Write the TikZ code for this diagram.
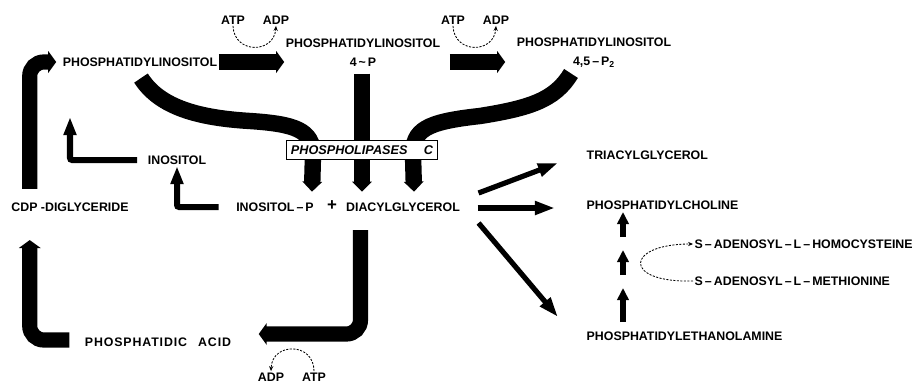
\documentclass[tikz,border=0pt]{standalone}
\usepackage{fontspec}
\setmainfont{Liberation Sans}
\usetikzlibrary{arrows.meta, calc, backgrounds}

\begin{document}
\begin{tikzpicture}[
                x=0.025cm, y=-0.025cm,
                lbl/.style={font=\bfseries\fontsize{8.8}{13.5}\selectfont, inner sep=1pt},
                band/.style={line width=0.41cm, -{Triangle[length=0.25cm, width=0.48cm]}},
                fat/.style={line width=0.38cm, rounded corners=0.35cm, -{Triangle[length=0.2cm, width=0.54cm]}},
                mid/.style={line width=0.15cm, rounded corners=1.5pt, -{Triangle[length=0.45cm, width=0.3cm]}},
                thinarr/.style={line width=0.13cm, -{Triangle[length=0.5cm, width=0.32cm]}},
                stackarr/.style={line width=0.13cm, -{Triangle[length=0.3cm, width=0.28cm]}},
                cofactor/.style={semithick, dash pattern=on 1.5pt off 1pt, -{Stealth[length=3.5pt, width=3pt]}},
                plcbox/.style={draw, fill=white, thin, minimum width=3.75cm, minimum height=0.47cm,
                    font=\bfseries\itshape\fontsize{9}{10}\selectfont}
            ]
                \useasboundingbox (0,0) rectangle (917,384);

                % inositol lipids
                \node[lbl] (pi) at (140,62) {PHOSPHATIDYLINOSITOL};
                \node[lbl, align=center] (pip) at (363,53) {PHOSPHATIDYLINOSITOL\\4\,\textasciitilde\,P};
                \node[lbl, align=center] (pip2) at (594,53) {PHOSPHATIDYLINOSITOL\\4,5\,--\,P\textsubscript{2}};
                \node[lbl] (atp1) at (233,20) {ATP};
                \node[lbl] (adp1) at (276,20) {ADP};
                \node[lbl] (atp2) at (453,20) {ATP};
                \node[lbl] (adp2) at (496,20) {ADP};

                % cycle
                \node[lbl] (cdp) at (70,207) {CDP -DIGLYCERIDE};
                \node[lbl] (ino) at (177,160) {INOSITOL};
                \node[lbl] (inop) at (275,207) {INOSITOL\,--\,P};
                \node[lbl, font=\bfseries\fontsize{12}{12}\selectfont] (plus) at (332,206) {+};
                \node[lbl] (dag) at (403,207) {DIACYLGLYCEROL};
                \node[lbl] (pa) at (158,342) {\addfontfeature{LetterSpace=7}PHOSPHATIDIC\hspace{0.9em}ACID};
                \node[lbl] (adp3) at (271,377) {ADP};
                \node[lbl] (atp3) at (314,377) {ATP};
                \node[plcbox] (plc) at (362,150) {PHOSPHOLIPASES\hspace{1.3em}C};
                \coordinate (inoup) at (70,117);

                % products of diacylglycerol
                \node[lbl, anchor=west] (tag) at (585,155) {TRIACYLGLYCEROL};
                \node[lbl, anchor=west] (pc) at (585,205) {PHOSPHATIDYLCHOLINE};
                \node[lbl, anchor=west] (pe) at (585,336) {PHOSPHATIDYLETHANOLAMINE};
                \node[lbl, anchor=west] (sah) at (693,244) {S\,--\,ADENOSYL\,--\,L\,--\,HOMOCYSTEINE};
                \node[lbl, anchor=west] (sam) at (693,281) {S\,--\,ADENOSYL\,--\,L\,--\,METHIONINE};

                \begin{scope}[on background layer]
                    \draw[band] ($(pi.south)+(1,10)$) .. controls (160,108) and (200,118) .. (250,121)
                        .. controls (295,124) and (313,130) .. (313,155) -- ($(plc.south west)+(26,32)$);
                    \draw[band] ($(pip.south)+(-1,5)$) -- ($(plc.south)+(0,32)$);
                    \draw[band] ($(pip2.south)+(-23,4)$) .. controls (555,100) and (530,108) .. (480,116)
                        .. controls (425,122) and (413,130) .. (413,155) -- ($(plc.south east)+(-24,32)$);
                \end{scope}

                \draw[fat] (pi.east) -- (pi.east -| pip.west);
                \draw[fat] ($(pip.east |- pi.east)+(8,0)$) -- ($(pip2.west |- pi.east)+(-10,0)$);
                \draw[cofactor] (atp1.south) .. controls (234,54) and (274,54) .. (adp1.south);
                \draw[cofactor] (atp2.south) .. controls (454,54) and (494,54) .. (adp2.south);

                \draw[fat] ($(cdp.north west)+(20,-12)$) |- ($(pi.west)+(-5,0)$);
                \draw[fat] ($(pa.west)+(-14,-2)$) -| ($(cdp.south west)+(20,27)$);
                \draw[fat] ($(dag.south west)+(16,17)$) |- ($(pa.east)+(26,-8)$);
                \draw[cofactor] (atp3.north) .. controls (314,342) and (272,342) .. (adp3.north);
                \draw[mid] ($(ino.west)+(-9,0)$) -| (inoup);
                \draw[mid] ($(inop.west)+(-16,0)$) -| (ino.south);

                \draw[thinarr] ($(dag.east)+(17,-14)$) -- ($(tag.west)+(-27,8)$);
                \draw[thinarr] ($(dag.east)+(16,1)$) -- ($(dag.east -| pc.west)+(-30,1)$);
                \draw[thinarr] ($(dag.east)+(17,16)$) -- ($(pe.west)+(-27,-19)$);
                \foreach \a/\b in {14/48, 61/86, 99/124}
                    \draw[stackarr] ($(pe.west)+(38,-\a)$) -- ($(pe.west)+(38,-\b)$);
                \draw[cofactor] (sam.west) .. controls (622,283) and (625,244) .. (sah.west);
            \end{tikzpicture}
\end{document}
